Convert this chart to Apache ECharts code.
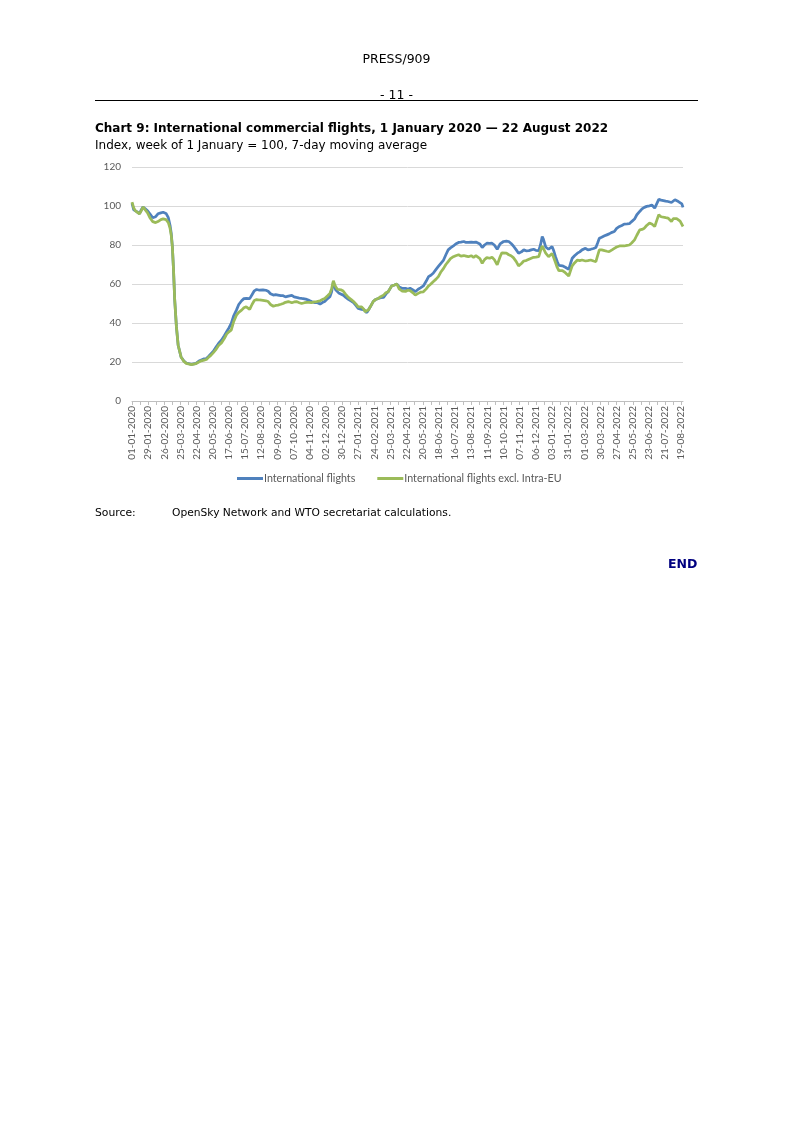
<!DOCTYPE html>
<html><head><meta charset="utf-8">
<script src="https://cdn.jsdelivr.net/npm/echarts@6/dist/echarts.min.js"></script>
<style>
html,body{margin:0;padding:0;background:#fff;}
#page{position:relative;width:793px;height:1122px;overflow:hidden;font-family:"DejaVu Sans",Verdana,sans-serif;color:#000;}
#chart{position:absolute;left:0;top:0;width:793px;height:1122px;}
.t{position:absolute;white-space:nowrap;line-height:14px;font-size:12px;}
</style></head><body>
<div id="page">
<div id="chart"></div>
<div class="t" style="left:0;width:793px;text-align:center;top:52px;font-size:12.5px;">PRESS/909</div>
<div class="t" style="left:0;width:793px;text-align:center;top:88px;font-size:12.5px;">- 11 -</div>
<div style="position:absolute;left:95px;top:100px;width:603px;height:1px;background:#000;"></div>
<div class="t" style="left:95px;top:121px;font-weight:bold;">Chart 9: International commercial flights, 1 January 2020 — 22 August 2022</div>
<div class="t" style="left:95px;top:138px;">Index, week of 1 January = 100, 7-day moving average</div>
<div class="t" style="left:95px;top:506px;font-size:10.8px;">Source:</div>
<div class="t" style="left:172px;top:506px;font-size:10.7px;">OpenSky Network and WTO secretariat calculations.</div>
<div class="t" style="left:668px;top:557px;font-weight:bold;color:#000080;font-size:12.5px;">END</div>
</div>
<script>
// Days absent from the daily series (one per 29-day tick span)
const missingDates = ['10-03-2021','01-06-2021','25-08-2021','25-09-2021','20-11-2021','15-02-2022','15-03-2022','10-06-2022','05-08-2022'];
const seriesNames = ['International flights', 'International flights excl. Intra-EU'];
// Position (day index on the category axis) of each reading
const dayIndex = [0,3,6,9,13,16,19,23,27,31,36,41,45,50,54,59,63,66,68,70,72,74,77,80,85,90,94,103,111,116,120,125,129,133,137,141,146,150,155,160,164,168,172,176,181,185,190,194,198,204,208,212,216,221,227,232,236,240,245,249,253,258,262,266,271,277,281,285,290,294,299,303,307,311,316,320,326,330,334,339,343,346,349,351,353,356,359,362,366,370,375,380,384,388,392,398,402,404,407,410,413,418,422,427,431,436,440,444,447,450,455,459,463,468,474,478,482,487,491,496,500,505,510,514,518,522,527,531,535,540,544,548,552,557,561,566,570,575,579,583,588,592,596,599,603,607,611,615,620,624,628,633,638,641,644,649,653,657,661,666,670,675,679,683,688,692,696,700,705,708,711,713,717,722,728,731,734,737,740,746,751,754,757,760,763,767,772,776,780,786,790,795,800,804,807,810,814,819,823,827,832,836,840,845,849,853,858,862,866,871,875,880,884,888,892,897,901,906,910,913,917,920,925,929,932,935,938,941,944,947,950,953,955];
const intlFlights = [101.5,98,99,97,96,98,99.5,98.5,97.5,96,94,94.5,96,96.5,96.8,96.2,94,90,86,79,67,52,38,28.6,22.6,20.5,19.5,18.8,19.3,20.5,21,21.6,21.8,23,24.3,25.5,27.8,29.5,31.2,33.5,35.5,37.5,39.8,43.5,46.6,49.5,51.4,52.5,52.6,52.5,54.5,56.5,57.2,56.8,57,56.8,56.3,55,54.3,54.5,54.3,54,54,53.4,53.8,54.2,53.4,53.1,52.8,52.6,52.4,52.1,51.6,51,50.5,50.6,49.7,50.5,51,52.5,53.5,56,61,59,57,56,55.2,55,54.3,53.2,52.1,51.2,50.4,49,47.5,47,46.8,46.3,45.3,46.8,48.3,51,52,52.6,53,53.1,54.8,56,57.5,59,59.5,60,58.5,57.8,57.8,57.3,57.8,57,56,57.3,58,59,61.5,63.8,64.5,65.5,67.5,69,70.5,72.3,75,77.5,78.5,79.5,80.5,81.3,81.5,81.8,81.3,81.3,81.5,81.3,81.5,82.1,80.5,78.7,80,80.9,80.8,80.9,80,77.8,80.6,81.5,81.8,82,81.8,80.8,79.5,77.5,75.8,76.5,77.5,77,77.1,77.5,77.8,77.3,77.1,80,84.3,83,79,77.8,79.2,77,74,71.5,69.5,69.3,68.6,68.5,67.5,70.5,73.2,74.5,75.8,76.5,77.5,78.3,77.5,77.8,78.2,78.7,81,83.5,84,84.7,85.2,85.7,86.5,86.9,88.5,89.5,90,90.7,90.8,90.9,92,93.3,95.5,97.2,98.5,99.3,99.8,100.1,100.5,98.9,101.5,103.4,103,102.8,102.5,102.3,102,101.8,102.5,103.2,102.8,102.3,101.8,101.1,99.3];
const intlExclEU = [102,99,97.5,97,96,97.5,99.5,98,96.5,94,92,91.5,92,93,93.4,93,91.5,88.5,85,79,67,52,38,28.6,22.6,20.3,19.3,18.7,19.2,20,20.6,21,21.3,22.5,23.5,24.8,26.6,28.5,29.8,32,34.3,35.5,36.3,40.5,44,45.5,46.6,47.8,48.3,47,49.5,51.5,52,51.8,51.6,51.4,51,49.5,48.6,49,49.2,49.6,50,50.6,51,50.4,50.8,51,50.4,50,50.4,50.6,50.6,50.4,50.8,51,51.4,52,52.6,54,55.2,57.5,61.7,60,58.6,57.3,56.6,57,56.4,54.8,53.1,52,51,49.8,48.3,48.3,47,45.8,45.3,46.8,48.3,51,52,52.6,53.5,54.3,55.5,56,57.5,59,59.5,60,57.5,56.4,56.2,56.8,56.6,55.5,54.3,55.2,55.8,56,57.5,59,60,61.2,62.5,63.8,66,68,70,71.5,73,74,74.5,75,74.3,74.6,74.3,74,74.5,73.7,74.5,75.3,73,70.6,72.5,73.5,73.2,73.7,72.5,69.8,74,76,76.6,75.8,75,74.5,73.5,71.5,69.3,70.5,71.8,72,72.7,73.2,73.7,73.8,74,77,79.5,79,75.8,74,75.6,73.5,71,68.5,66.8,66.9,65.8,65.5,64.1,66.8,69.3,70.8,72.3,72,72.3,71.8,72,72.3,71.8,71.5,74.5,77.5,77.5,77.1,76.8,76.6,77.5,78.3,79,79.5,79.5,79.5,79.8,80,81,82.6,85,87.8,88,88.6,90,91.2,90.8,89.5,93,95.5,94.5,94.3,94,93.8,93.5,92.1,93.5,94.3,93.5,92.9,92.2,91.5,89.5];
const yTicks = {min: 0, max: 120, step: 20};

// Daily category list 01-01-2020 .. 22-08-2022
const pad = n => (n < 10 ? '0' : '') + n;
const categories = [];
for (let t = Date.UTC(2020,0,1); t <= Date.UTC(2022,7,22); t += 86400000) {
  const d = new Date(t);
  const s = pad(d.getUTCDate()) + '-' + pad(d.getUTCMonth()+1) + '-' + d.getUTCFullYear();
  if (missingDates.indexOf(s) < 0) categories.push(s);
}

const chart = echarts.init(document.getElementById('chart'), null, {renderer:'canvas'});
const labelFont = {fontFamily:'Lato', fontSize:10, color:'#595959'};
chart.setOption({
  animation:false,
  grid:{left:132, right:110, top:167, bottom:721, containLabel:false},
  legend:{
    left:237, top:473, padding:0, itemGap:22, itemWidth:26, itemHeight:3, icon:'rect',
    textStyle:{fontFamily:'Lato', fontSize:10.7, color:'#595959', padding:[0,0,0,-4]},
    data:seriesNames
  },
  xAxis:{
    type:'category', data:categories, boundaryGap:false,
    axisLine:{lineStyle:{color:'#bfbfbf', width:1}},
    axisTick:{interval:13, length:4, lineStyle:{color:'#bfbfbf'}},
    axisLabel:Object.assign({interval:27, rotate:90, margin:5}, labelFont),
    splitLine:{show:false}
  },
  yAxis:{
    type:'value', min:yTicks.min, max:yTicks.max, interval:yTicks.step,
    axisLine:{show:false}, axisTick:{show:false},
    axisLabel:Object.assign({margin:11}, labelFont),
    splitLine:{lineStyle:{color:'#d9d9d9', width:1}}
  },
  series:[
    {name:seriesNames[0], type:'line', showSymbol:false, symbol:'none',
     lineStyle:{width:2.75, color:'#4f81bd'}, itemStyle:{color:'#4f81bd'},
     data:dayIndex.map((d,k)=>[d, intlFlights[k]])},
    {name:seriesNames[1], type:'line', showSymbol:false, symbol:'none',
     lineStyle:{width:2.75, color:'#9bbb59'}, itemStyle:{color:'#9bbb59'},
     data:dayIndex.map((d,k)=>[d, intlExclEU[k]])}
  ]
});
</script>
</body></html>
